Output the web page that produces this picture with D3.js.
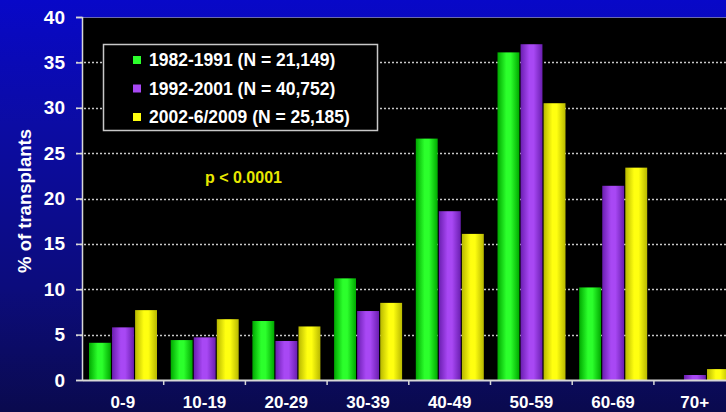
<!DOCTYPE html>
<html><head><meta charset="utf-8">
<script src="https://cdn.jsdelivr.net/npm/d3@7"></script>
<style>html,body{margin:0;padding:0;background:#0a0a80;overflow:hidden}svg{display:block}</style>
</head><body>
<svg id="c" width="726" height="412"></svg>
<script>
const categories = ["0-9","10-19","20-29","30-39","40-49","50-59","60-69","70+"];
const seriesNames = ["1982-1991 (N = 21,149)","1992-2001 (N = 40,752)","2002-6/2009 (N = 25,185)"];
const s1982 = [4.1, 4.4, 6.5, 11.2, 26.6, 36.1, 10.2, 0];
const s1992 = [5.8, 4.7, 4.3, 7.6, 18.6, 37.0, 21.4, 0.55];
const s2002 = [7.7, 6.7, 5.9, 8.5, 16.1, 30.5, 23.4, 1.2];
const yTicks = [0,5,10,15,20,25,30,35,40];
const pText = "p < 0.0001";

(function(){
const colors = [
  {mid:"#2cff2c", edge:"#00a800"},
  {mid:"#a848f4", edge:"#6a1eb0"},
  {mid:"#ffff10", edge:"#b8b800"}
];
const seriesVals = [s1982, s1992, s2002];
const FONT = "'Liberation Sans', Arial, Helvetica, sans-serif";

const svg = d3.select("#c");
const defs = svg.append("defs");
const bg = defs.append("linearGradient").attr("id","bg").attr("x1",0).attr("y1",0).attr("x2",0).attr("y2",1);
[[0,"#0808c8"],[0.3,"#0c0ca4"],[0.7,"#0c0c7c"],[1,"#0a0a4e"]].forEach(s=>bg.append("stop").attr("offset",s[0]).attr("stop-color",s[1]));
colors.forEach((c,i)=>{
  const g = defs.append("linearGradient").attr("id","g"+i).attr("x1",0).attr("y1",0).attr("x2",1).attr("y2",0);
  g.append("stop").attr("offset",0).attr("stop-color",c.edge);
  g.append("stop").attr("offset",0.4).attr("stop-color",c.mid);
  g.append("stop").attr("offset",0.6).attr("stop-color",c.mid);
  g.append("stop").attr("offset",1).attr("stop-color",c.edge);
});

svg.append("rect").attr("width",726).attr("height",412).attr("fill","url(#bg)");

const pLeft = 82, pTop = 17, pBottom = 380, bandW = 81.7;
const x = d3.scaleBand().domain(categories).range([pLeft, pLeft + bandW*categories.length]).padding(0);
const xs = d3.scaleBand().domain(d3.range(3)).range([7, 75]).paddingInner(0.05);
const y = d3.scaleLinear().domain([0,40]).range([pBottom, pTop]);

// plot area
svg.append("rect").attr("x",pLeft).attr("y",pTop).attr("width",726-pLeft).attr("height",pBottom-pTop).attr("fill","#000");
svg.append("line").attr("x1",pLeft).attr("x2",726).attr("y1",pTop+0.5).attr("y2",pTop+0.5).attr("stroke","#6a6ab0").attr("stroke-width",1);

// gridlines
svg.append("g").selectAll("line").data(yTicks.filter(t=>t>0 && t<40)).join("line")
  .attr("x1",76).attr("x2",726).attr("y1",d=>Math.round(y(d))+0.5).attr("y2",d=>Math.round(y(d))+0.5)
  .attr("stroke","#c8c8c8").attr("stroke-width",1.5).attr("stroke-dasharray","2,2");

// bars
const groups = svg.append("g").selectAll("g").data(categories).join("g")
  .attr("transform",d=>`translate(${x(d)},0)`);
groups.selectAll("rect").data((d,i)=>seriesVals.map((s,k)=>({k, v:s[i]}))).join("rect")
  .attr("x",d=>xs(d.k)).attr("width",xs.bandwidth())
  .attr("y",d=>y(d.v)).attr("height",d=>pBottom - y(d.v))
  .attr("fill",d=>`url(#g${d.k})`);

// y axis
const yAxis = svg.append("g").attr("transform",`translate(${pLeft},0)`)
  .call(d3.axisLeft(y).tickValues(yTicks).tickSize(6).tickPadding(11));
yAxis.select(".domain").attr("stroke","#d8d8d8").attr("stroke-width",1.5);
yAxis.selectAll(".tick line").attr("stroke","#d8d8d8").attr("stroke-width",1.5);
yAxis.selectAll("text").attr("fill","#fff").attr("font-family",FONT).attr("font-weight","bold").attr("font-size","19px");

// x axis
const xAxis = svg.append("g").attr("transform",`translate(0,${pBottom})`)
  .call(d3.axisBottom(x).tickSize(0).tickPadding(16));
xAxis.select(".domain").attr("stroke","#d8d8d8").attr("stroke-width",2);
xAxis.selectAll("text").attr("fill","#fff").attr("font-family",FONT).attr("font-weight","bold").attr("font-size","17px");
svg.append("g").selectAll("line").data(categories.slice(1)).join("line")
  .attr("x1",d=>x(d)).attr("x2",d=>x(d)).attr("y1",pBottom).attr("y2",pBottom+5)
  .attr("stroke","#d8d8d8").attr("stroke-width",1.5);

// y title
svg.append("text").attr("transform","translate(31,201) rotate(-90)").attr("text-anchor","middle")
  .attr("fill","#fff").attr("font-family",FONT).attr("font-weight","bold").attr("font-size","18.5px")
  .text("% of transplants");

// legend
const lg = svg.append("g");
lg.append("rect").attr("x",103.5).attr("y",44.5).attr("width",274).attr("height",86)
  .attr("fill","#000").attr("stroke","#c8c8c8").attr("stroke-width",1.5);
const rowY = [60, 88.5, 117];
seriesNames.forEach((n,i)=>{
  lg.append("rect").attr("x",133).attr("y",rowY[i]-4).attr("width",8).attr("height",8).attr("fill",colors[i].mid);
  lg.append("text").attr("x",149).attr("y",rowY[i]).attr("dy","0.36em")
    .attr("fill","#fff").attr("font-family",FONT).attr("font-weight","bold").attr("font-size","17.5px").text(n);
});

// p-value
svg.append("text").attr("x",205).attr("y",177).attr("dy","0.36em")
  .attr("fill","#e8e800").attr("font-family",FONT).attr("font-weight","bold").attr("font-size","16px").text(pText);
})();
</script>
</body></html>
